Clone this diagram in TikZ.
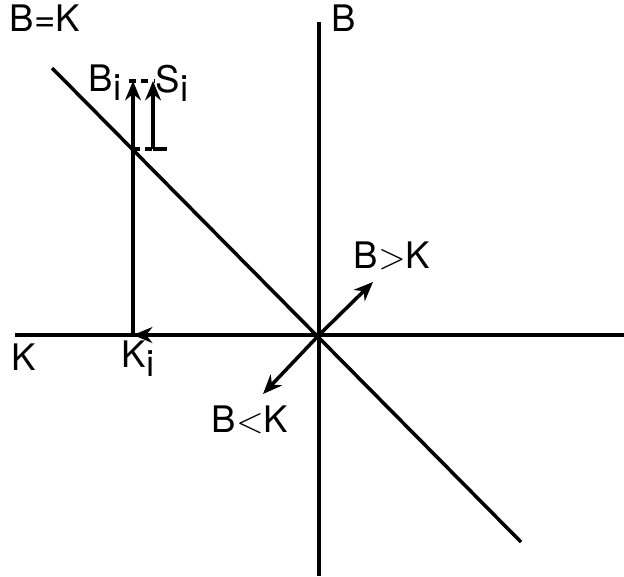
\documentclass[tikz,border=0pt]{standalone}
\usepackage{fontspec}
\setmainfont{TeX Gyre Heros}
\usetikzlibrary{arrows.meta}
\newcommand{\lowi}{\raisebox{-2.6pt}{i}}
\tikzset{
  axis/.style={line width=1pt},
  arr/.style={line width=1pt,-{Stealth[length=5.5pt,width=4.5pt]}},
  lbl/.style={font=\fontsize{10.4}{12}\selectfont,inner sep=0pt}
}
\begin{document}
\begin{tikzpicture}
\useasboundingbox (0,0) rectangle (6.24,5.76);
% axes and the line B=K
\coordinate (O) at (3.19,2.41);
\coordinate (Btop) at (3.19,5.54);
\coordinate (Bbot) at (3.19,0);
\coordinate (Kleft) at (0.15,2.41);
\coordinate (Kright) at (6.24,2.41);
\coordinate (Dtop) at (0.52,5.08);
\coordinate (Dbot) at (5.21,0.34);
\draw[axis] (Btop) -- (Bbot);
\draw[axis] (Kleft) -- (Kright);
\draw[axis] (Dtop) -- (Dbot);
% K_i, B_i and S_i
\coordinate (Ki) at (1.33,2.41);
\coordinate (P) at (1.33,4.27);
\coordinate (Bi) at (1.33,4.95);
\coordinate (Sb) at (1.53,4.27);
\coordinate (Si) at (1.53,4.95);
\coordinate (tick) at (1.67,4.27);
\draw[arr] (O) -- (Ki);
\draw[arr] (Ki) -- (Bi);
\draw[arr] (Sb) -- (Si);
\draw[line width=1pt,dash pattern=on 2pt off 1.5pt] (P) -- (Sb);
\draw[line width=1pt] (Sb) -- (tick);
\draw[line width=1pt,dash pattern=on 2pt off 1.5pt] (1.29,4.95) -- (1.55,4.95);
% regions
\coordinate (up) at (3.73,2.94);
\coordinate (dn) at (2.63,1.82);
\draw[arr] (O) -- (up);
\draw[arr] (O) -- (dn);
% labels
\node[lbl] (lBK) at (0.45,5.58) {B=K};
\node[lbl,anchor=west] (lB) at (3.31,5.58) {B};
\node[lbl] (lK) at (0.24,2.19) {K};
\node[lbl] (lKi) at (1.38,2.17) {K\lowi};
\node[lbl] (lBi) at (1.05,4.93) {B\lowi};
\node[lbl] (lSi) at (1.72,4.93) {S\lowi};
\node[lbl] (lgt) at (3.92,3.20) {B$>$K};
\node[lbl] (llt) at (2.50,1.56) {B$<$K};
\end{tikzpicture}
\end{document}
